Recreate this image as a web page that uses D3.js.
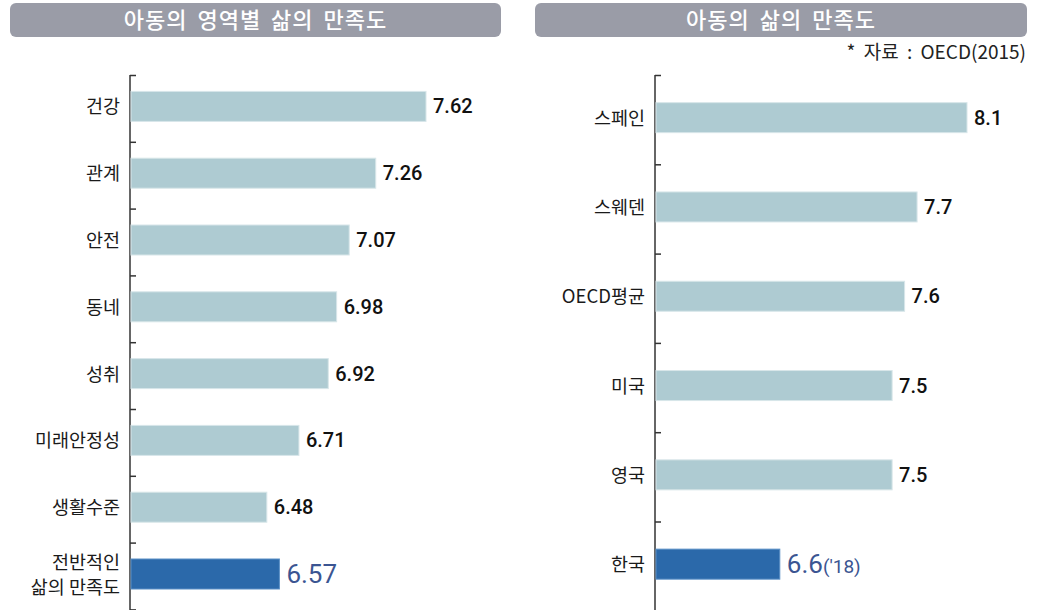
<!DOCTYPE html>
<html>
<head>
<meta charset="utf-8">
<script src="https://cdn.jsdelivr.net/npm/d3@7"></script>
<style>
  body { margin: 0; background: #fff; }
  svg text { font-family: "Noto Sans CJK KR", "Noto Sans", sans-serif; }
</style>
</head>
<body>
<div id="chart"></div>
<script>
// left panel data
const areaLabels = ['건강', '관계', '안전', '동네', '성취', '미래안정성', '생활수준', '전반적인|삶의 만족도'];
const areaValues = [7.62, 7.26, 7.07, 6.98, 6.92, 6.71, 6.48, 6.57];

// right panel data
const countryLabels = ['스페인', '스웨덴', 'OECD평균', '미국', '영국', '한국'];
const countryValues = [8.1, 7.7, 7.6, 7.5, 7.5, 6.6];
const countryValueText = ['8.1', '7.7', '7.6', '7.5', '7.5', '6.6'];

const titles = ['아동의 영역별 삶의 만족도', '아동의 삶의 만족도'];
const source = '* 자료 : OECD(2015)';

const W = 1041, H = 610;
const barColor = '#aecbd2', hiColor = '#2b69aa', hiText = '#3b5592', titleBg = '#9a9ca7';

const svg = d3.select('#chart').append('svg')
    .attr('width', W)
    .attr('height', H);

function titleBox(x0, x1, txt){
    svg.append('rect')
        .attr('x', x0).attr('y', 3)
        .attr('width', x1 - x0).attr('height', 34)
        .attr('rx', 6)
        .attr('fill', titleBg);
    svg.append('text')
        .attr('x', (x0 + x1) / 2).attr('y', 28)
        .attr('text-anchor', 'middle')
        .attr('fill', '#fff')
        .style('font-size', '22px')
        .style('font-weight', 500)
        .style('letter-spacing', '1px')
        .style('word-spacing', '4px')
        .text(txt);
}

function panel(opt){
    const labels = opt.labels, values = opt.values;
    const idx = d3.range(labels.length);

    const x = d3.scaleLinear().domain(opt.domain).range([opt.x0, opt.x1]);
    const y = d3.scaleBand().domain(idx).range([opt.y0, opt.y0 + opt.step * labels.length]);

    const g = svg.append('g');

    // axis with inward ticks at band edges
    const tickPos = d3.range(labels.length + 1).map(i => opt.y0 + i * opt.step);
    const yAx = d3.scaleLinear().domain([opt.y0, H]).range([opt.y0, H]);
    g.append('g')
        .attr('transform', 'translate(' + opt.x0 + ',0)')
        .call(d3.axisRight(yAx).tickValues(tickPos).tickSize(6).tickFormat(''))
        .call(a => a.select('.domain').attr('d', 'M0,' + opt.y0 + 'V' + H).attr('stroke', '#333').attr('stroke-width', 1.5))
        .call(a => a.selectAll('.tick line').attr('stroke', '#333').attr('stroke-width', 1.5));

    const hi = labels.length - 1;
    const bh = opt.barH;
    const mid = i => y(i) + y.bandwidth() / 2 - 2;

    g.selectAll('rect.bar')
        .data(idx)
        .enter().append('rect')
        .attr('class', 'bar')
        .attr('x', x(opt.domain[0]) + 1)
        .attr('y', i => mid(i) - bh / 2)
        .attr('width', i => x(values[i]) - x(opt.domain[0]) - 1)
        .attr('height', bh)
        .attr('fill', i => i === hi ? hiColor : barColor)
        .attr('stroke', i => i === hi ? '#5a8fc6' : '#d8e6e9')
        .attr('stroke-width', 1);

    // category labels
    g.selectAll('text.lab')
        .data(idx)
        .enter().append('text')
        .attr('class', 'lab')
        .attr('x', opt.x0 - 10)
        .attr('y', i => mid(i))
        .attr('text-anchor', 'end')
        .attr('fill', '#1a1a1a')
        .style('font-size', '18.5px')
        .each(function(i){
            const parts = labels[i].split('|');
            const t = d3.select(this);
            parts.forEach((p, k) => {
                t.append('tspan')
                    .attr('x', opt.x0 - 10)
                    .attr('dy', k === 0 ? (7 - (parts.length - 1) * 12) + 'px' : '25px')
                    .text(p);
            });
        });

    // value labels
    g.selectAll('text.val')
        .data(idx)
        .enter().append('text')
        .attr('class', 'val')
        .attr('x', i => x(values[i]) + 7)
        .attr('y', i => mid(i) + (i === hi ? 9 : 7))
        .attr('fill', i => i === hi ? hiText : '#111')
        .style('font-family', 'Roboto, "Liberation Sans", sans-serif')
        .style('font-size', i => i === hi ? '26px' : '20px')
        .style('font-weight', i => i === hi ? 400 : 500)
        .each(function(i){
            const t = d3.select(this);
            t.append('tspan').text(opt.valueText ? opt.valueText[i] : values[i].toFixed(2));
            if (i === hi && opt.suffix) {
                t.append('tspan').style('font-size', '19px').text(opt.suffix);
            }
        });
}

titleBox(10, 501, titles[0]);
titleBox(535, 1027, titles[1]);

svg.append('text')
    .attr('x', 1026).attr('y', 59)
    .attr('text-anchor', 'end')
    .attr('fill', '#222')
    .style('font-size', '19px')
    .style('word-spacing', '4px')
    .text(source);

panel({
    labels: areaLabels, values: areaValues,
    domain: [5.5, 7.62], x0: 130, x1: 426,
    y0: 75, step: 66.8, barH: 30
});

panel({
    labels: countryLabels, values: countryValues, valueText: countryValueText,
    suffix: "('18)",
    domain: [5.6, 8.1], x0: 655, x1: 967,
    y0: 75, step: 89.3, barH: 30
});
</script>
</body>
</html>
